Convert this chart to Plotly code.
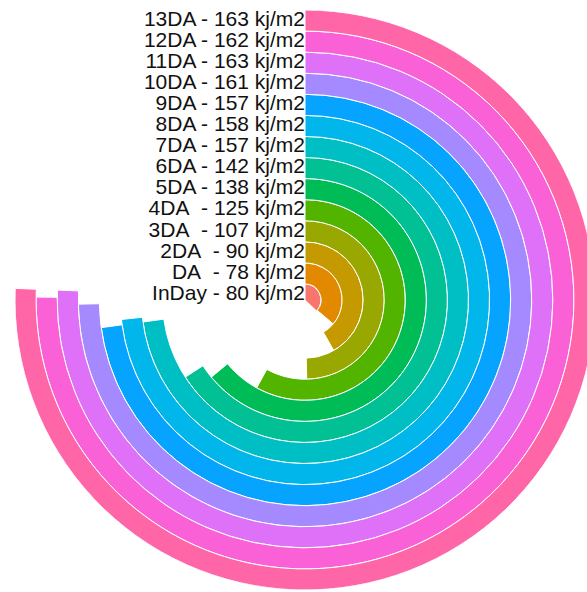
import plotly.graph_objects as go

# Days and their irradiation totals (kj/m2), innermost ring first
categories = ["InDay", "DA", "2DA", "3DA", "4DA", "5DA", "6DA",
              "7DA", "8DA", "9DA", "10DA", "11DA", "12DA", "13DA"]
values = [80, 78, 90, 107, 125, 138, 142, 157, 158, 157, 161, 163, 162, 163]
labels = ["InDay - 80 kj/m2", "DA\u00a0 - 78 kj/m2", "2DA\u00a0 - 90 kj/m2",
          "3DA\u00a0 - 107 kj/m2", "4DA\u00a0 - 125 kj/m2", "5DA - 138 kj/m2",
          "6DA - 142 kj/m2", "7DA - 157 kj/m2", "8DA - 158 kj/m2",
          "9DA - 157 kj/m2", "10DA - 161 kj/m2", "11DA - 163 kj/m2",
          "12DA - 162 kj/m2", "13DA - 163 kj/m2"]
colors = ["#F8766D", "#E38900", "#C49A00", "#99A800", "#53B400", "#00BC56",
          "#00C094", "#00BFC4", "#00B6EB", "#06A4FF", "#A58AFF", "#DF70F8",
          "#FB61D7", "#FF66A8"]

# scales: a full turn is THETA_FULL units; rings are unit-wide bands
THETA_FULL = 215.5
R_MIN, R_MAX = 0.74, 14.5

pos = list(range(1, len(categories) + 1))
sweep = [v * 360.0 / THETA_FULL for v in values]
base = [max(p - 0.5, R_MIN) for p in pos]
thick = [p + 0.5 - b for p, b in zip(pos, base)]

fig = go.Figure()
fig.add_trace(go.Barpolar(
    r=thick, base=base, theta=[s / 2 for s in sweep], width=sweep,
    marker=dict(color=colors, line=dict(color="white", width=1)),
    hovertext=labels, hoverinfo="text",
))
fig.add_trace(go.Scatterpolar(
    r=pos, theta=[0] * len(pos), mode="text", text=labels,
    textposition="middle left", cliponaxis=False,
    textfont=dict(size=21, color="#111111", family="Liberation Sans, Arial"),
    hoverinfo="skip",
))

W, H = 595, 592
cx, cy, rad = 305, 300, 290
fig.update_layout(
    width=W, height=H, margin=dict(l=0, r=0, t=0, b=0),
    paper_bgcolor="white", plot_bgcolor="white", showlegend=False,
    polar=dict(
        domain=dict(x=[(cx - rad) / W, (cx + rad) / W],
                    y=[(H - cy - rad) / H, (H - cy + rad) / H]),
        bgcolor="white", hole=0,
        radialaxis=dict(range=[R_MIN, R_MAX], visible=False, showgrid=False),
        angularaxis=dict(rotation=90, direction="clockwise", visible=False,
                         showgrid=False),
    ),
)

fig.write_html(
    "out.html",
    post_script="document.documentElement.style.overflow='hidden';"
                "document.body.style.overflow='hidden';",
)
